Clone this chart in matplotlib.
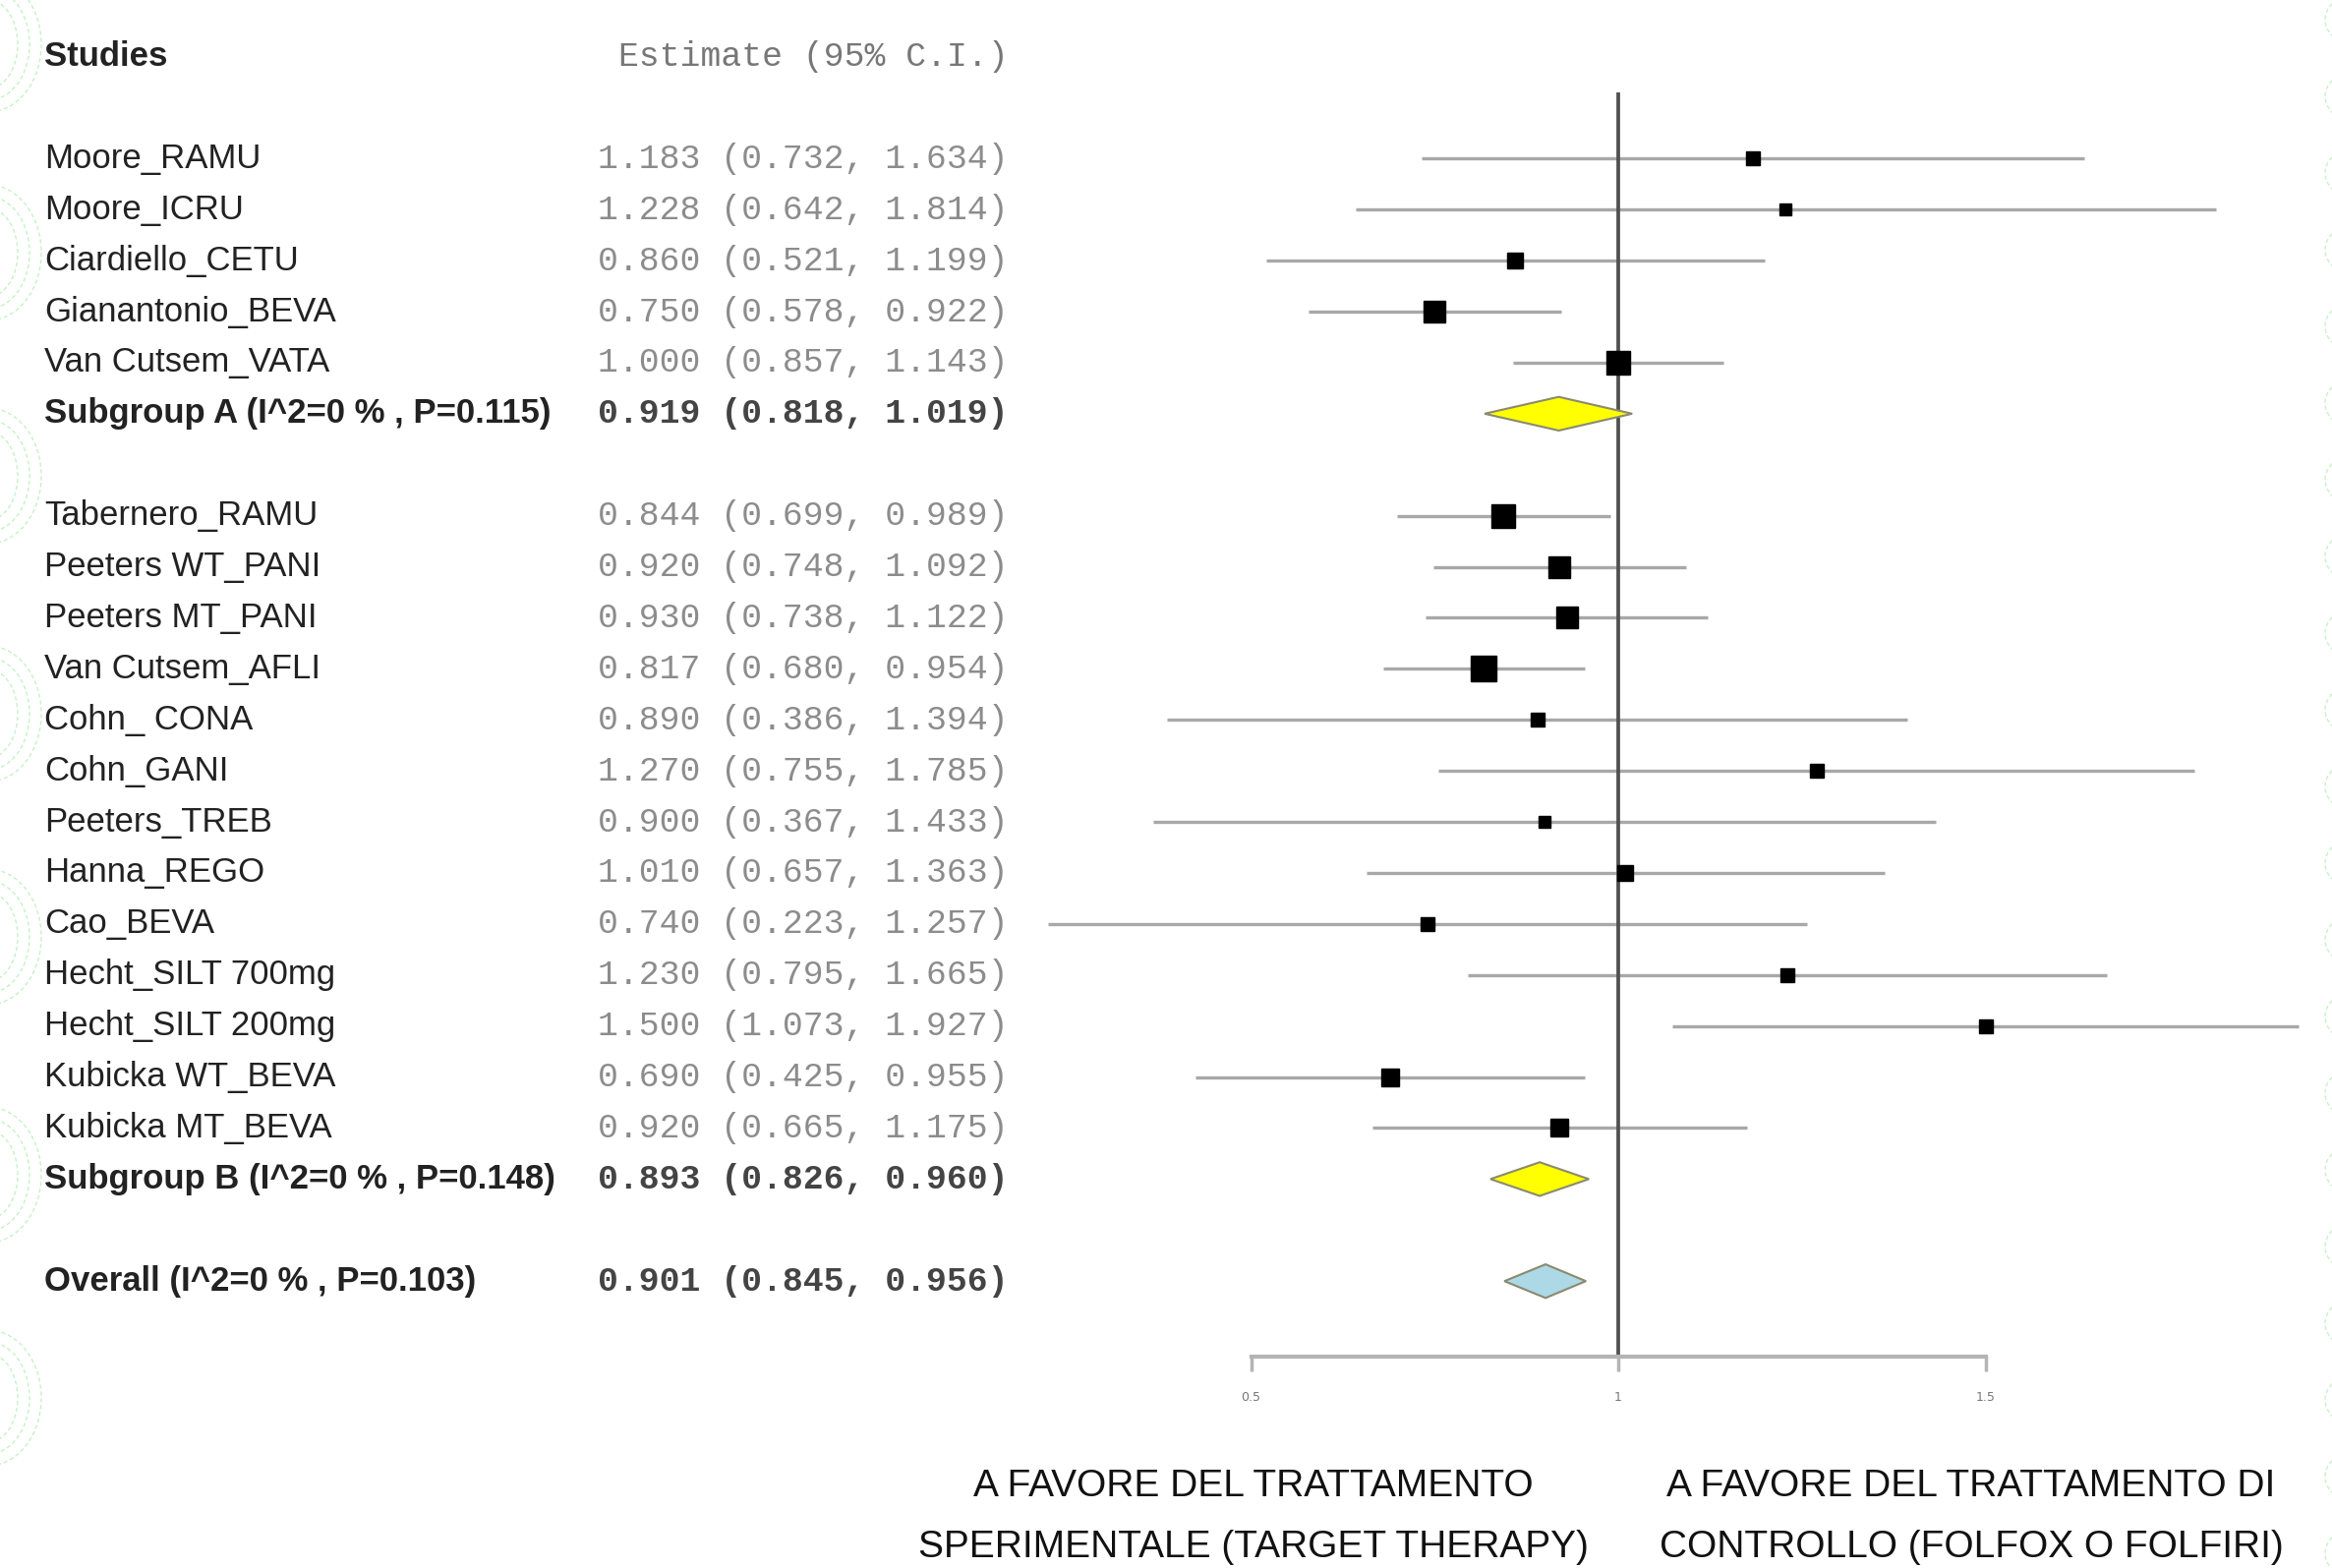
import matplotlib
matplotlib.use("Agg")
import matplotlib.pyplot as plt
import matplotlib.transforms as mtransforms
from matplotlib.patches import Polygon, Arc
import numpy as np

# --- data ---
studies_a = ["Moore_RAMU", "Moore_ICRU", "Ciardiello_CETU", "Gianantonio_BEVA", "Van Cutsem_VATA"]
est_a = [1.183, 1.228, 0.860, 0.750, 1.000]
lo_a = [0.732, 0.642, 0.521, 0.578, 0.857]
hi_a = [1.634, 1.814, 1.199, 0.922, 1.143]

studies_b = ["Tabernero_RAMU", "Peeters WT_PANI", "Peeters MT_PANI", "Van Cutsem_AFLI",
             "Cohn_ CONA", "Cohn_GANI", "Peeters_TREB", "Hanna_REGO", "Cao_BEVA",
             "Hecht_SILT 700mg", "Hecht_SILT 200mg", "Kubicka WT_BEVA", "Kubicka MT_BEVA"]
est_b = [0.844, 0.920, 0.930, 0.817, 0.890, 1.270, 0.900, 1.010, 0.740, 1.230, 1.500, 0.690, 0.920]
lo_b = [0.699, 0.748, 0.738, 0.680, 0.386, 0.755, 0.367, 0.657, 0.223, 0.795, 1.073, 0.425, 0.665]
hi_b = [0.989, 1.092, 1.122, 0.954, 1.394, 1.785, 1.433, 1.363, 1.257, 1.665, 1.927, 0.955, 1.175]

summary_labels = ["Subgroup A (I^2=0 % , P=0.115)", "Subgroup B (I^2=0 % , P=0.148)",
                  "Overall (I^2=0 % , P=0.103)"]
summary_est = [0.919, 0.893, 0.901]
summary_lo = [0.818, 0.826, 0.845]
summary_hi = [1.019, 0.960, 0.956]
summary_colors = ["#ffff00", "#ffff00", "#add8e6"]

xticks = [0.5, 1, 1.5]
xticklabels = ["0.5", "1", "1.5"]

caption_left = "A FAVORE DEL TRATTAMENTO\nSPERIMENTALE (TARGET THERAPY)"
caption_right = "A FAVORE DEL TRATTAMENTO DI\nCONTROLLO (FOLFOX O FOLFIRI)"

# row layout: header 0, group A 2..6, subgroup A 7, group B 9..21, subgroup B 22, overall 24
rows_a = np.arange(2, 2 + len(studies_a))
rows_b = np.arange(9, 9 + len(studies_b))
summary_rows = [7, 22, 24]

fig = plt.figure(figsize=(23.72, 15.95), dpi=100)
fig.patch.set_facecolor("white")

# background decoration (faint green dashed arcs at the edges)
deco = fig.add_axes([0, 0, 1, 1], zorder=0)
deco.set_xlim(0, 2372)
deco.set_ylim(1595, 0)
deco.axis("off")
for cy in [45, 257, 484, 726, 953, 1195, 1422]:
    for r in [30, 42, 54]:
        deco.add_patch(Arc((-12, cy), 2 * r, 2 * r + 30, theta1=-90, theta2=90,
                           color="#c6f2c6", lw=1.0, ls=(0, (3, 2))))
for cy in np.arange(20, 1595, 78):
    deco.add_patch(Arc((2395, cy), 60, 50, theta1=110, theta2=250,
                       color="#c6f2c6", lw=1.0, ls=(0, (3, 2))))

ax = fig.add_axes([1040 / 2372, 1 - 1380 / 1595, 1332 / 2372, 1380 / 1595], zorder=1)
ax.patch.set_alpha(0)
ax.set_xlim(1 + (1040 - 1646) / 747, 1 + (2372 - 1646) / 747)
ax.set_ylim(25.48, -1.108)

# reference line at 1
ax.plot([1, 1], [0.7, 25.48], color="#505050", lw=2.7, zorder=2, solid_capstyle="butt")

# individual studies
est_all = est_a + est_b
lo_all = lo_a + lo_b
hi_all = hi_a + hi_b
rows_all = list(rows_a) + list(rows_b)
for e, l, h, r in zip(est_all, lo_all, hi_all, rows_all):
    ax.plot([l, h], [r, r], color="#a8a8a8", lw=2.4, zorder=1, solid_capstyle="butt")
    ms = 9.6 / np.sqrt(h - l)
    ax.plot(e, r, marker="s", ms=ms, color="black", mec="black", zorder=3)

# summary diamonds
for e, l, h, r, c in zip(summary_est, summary_lo, summary_hi, summary_rows, summary_colors):
    d = Polygon([[l, r], [e, r - 0.33], [h, r], [e, r + 0.33]], closed=True,
                facecolor=c, edgecolor="#8a8a70", lw=1.5, zorder=3)
    ax.add_patch(d)

# axis
for s in ["top", "right", "left"]:
    ax.spines[s].set_visible(False)
ax.spines["bottom"].set_bounds(0.5, 1.5)
ax.spines["bottom"].set_color("#b4b4b4")
ax.spines["bottom"].set_linewidth(3)
ax.set_yticks([])
ax.set_xticks(xticks)
ax.set_xticklabels(xticklabels)
ax.tick_params(axis="x", length=11, width=2.5, color="#b4b4b4", labelsize=9,
               labelcolor="#777777", pad=14)

# text columns
trans = mtransforms.blended_transform_factory(fig.transFigure, ax.transData)
name_font = "Liberation Sans"
x_name = 45 / 2372
x_est = 1026 / 2372

ax.text(x_name, 0, "Studies", transform=trans, ha="left", va="center",
        fontsize=25, fontweight="bold", family=name_font, color="#222222", clip_on=False)
ax.text(x_est, 0, "Estimate (95% C.I.)", transform=trans, ha="right", va="center",
        fontsize=25, family="Liberation Mono", color="#777777", clip_on=False)

for name, e, l, h, r in zip(studies_a + studies_b, est_all, lo_all, hi_all, rows_all):
    ax.text(x_name, r, name, transform=trans, ha="left", va="center",
            fontsize=25, family=name_font, color="#222222", clip_on=False)
    ax.text(x_est, r, f"{e:.3f} ({l:.3f}, {h:.3f})", transform=trans, ha="right",
            va="center", fontsize=25, family="Liberation Mono", color="#8c8c8c", clip_on=False)

for name, e, l, h, r in zip(summary_labels, summary_est, summary_lo, summary_hi, summary_rows):
    ax.text(x_name, r, name, transform=trans, ha="left", va="center",
            fontsize=25, fontweight="bold", family=name_font, color="#222222", clip_on=False)
    ax.text(x_est, r, f"{e:.3f} ({l:.3f}, {h:.3f})", transform=trans, ha="right",
            va="center", fontsize=25, fontweight="bold", family="Liberation Mono",
            color="#444444", clip_on=False)

# captions under the axis
fig.text(1275 / 2372, 1 - 1543 / 1595, caption_left, ha="center", va="center",
         fontsize=28, family="Liberation Sans", color="#111111", linespacing=1.95)
fig.text(2005 / 2372, 1 - 1543 / 1595, caption_right, ha="center", va="center",
         fontsize=28, family="Liberation Sans", color="#111111", linespacing=1.95)

fig.savefig("out.png", dpi=100)
